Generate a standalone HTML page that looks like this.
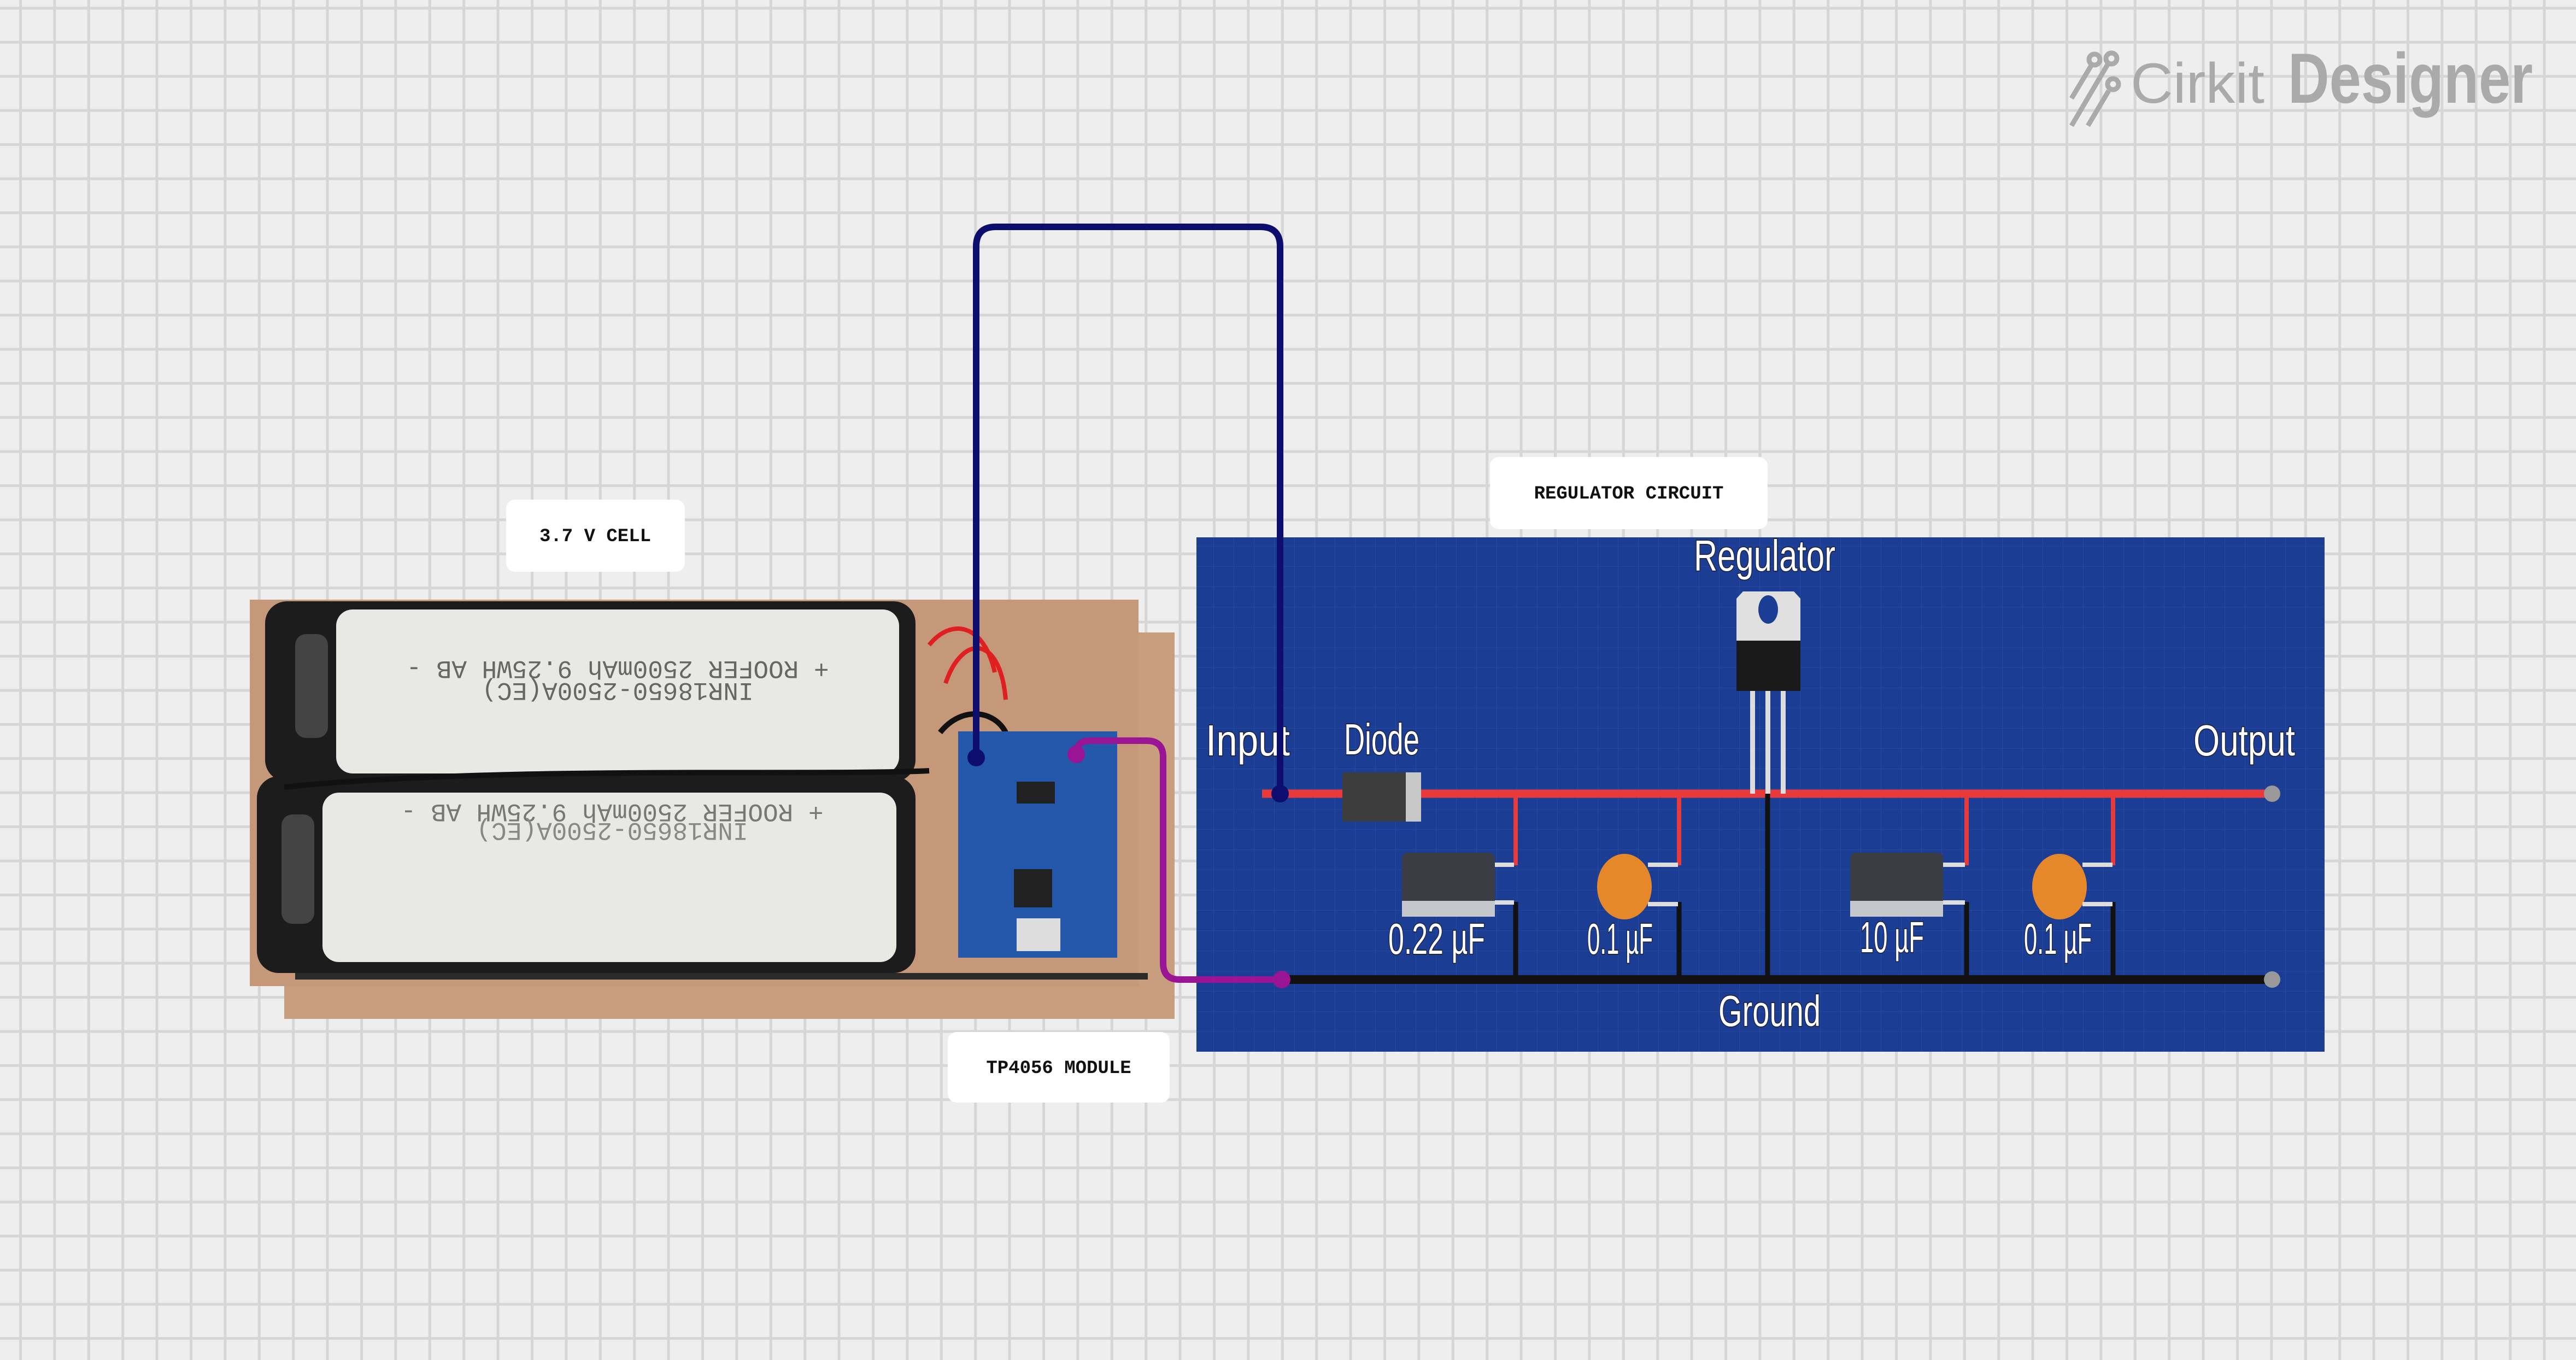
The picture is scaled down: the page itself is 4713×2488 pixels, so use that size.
<!DOCTYPE html>
<html><head><meta charset="utf-8"><style>
html,body{margin:0;padding:0;width:4713px;height:2488px;overflow:hidden;background:#eeeeee}
svg{display:block}
.lb{font-family:"Liberation Sans",sans-serif;fill:#fff;font-size:80px;stroke:#1a1a2a;stroke-width:3px;paint-order:stroke}
.tag{font-family:"Liberation Mono",monospace;font-weight:bold;font-size:34px;fill:#111}
.bt{font-family:"Liberation Mono",monospace;font-size:46px;fill:#666}
</style></head><body>
<svg width="4713" height="2488" viewBox="0 0 4713 2488" xmlns="http://www.w3.org/2000/svg">
<defs>
<pattern id="g" width="62.4" height="62.4" patternUnits="userSpaceOnUse" x="35" y="12.4">
<path d="M0 0H62.4M0 0V62.4" stroke="#d6d6d6" stroke-width="10" fill="none"/>
</pattern>
<pattern id="bg" width="37" height="37" patternUnits="userSpaceOnUse">
<path d="M0 0H37M0 0V37" stroke="#2d52a8" stroke-width="2" fill="none" opacity="0.6"/>
</pattern>
</defs>
<rect width="4713" height="2488" fill="#eeeeee"/>
<rect width="4713" height="2488" fill="url(#g)"/>

<!-- logo -->
<g fill="#aaaaaa">
<g stroke="#aaaaaa" stroke-width="9" fill="none">
<line x1="3790" y1="180" x2="3826" y2="120"/><circle cx="3832" cy="109" r="10"/>
<line x1="3790" y1="230" x2="3856" y2="118"/><circle cx="3863" cy="107" r="10"/>
<line x1="3820" y1="230" x2="3858" y2="166"/><circle cx="3866" cy="154" r="10"/>
</g>
<text x="3898" y="188" font-family="Liberation Sans,sans-serif" font-size="104" textLength="245" lengthAdjust="spacingAndGlyphs">Cirkit</text>
<text x="4186" y="188" font-family="Liberation Sans,sans-serif" font-weight="bold" font-size="130" textLength="448" lengthAdjust="spacingAndGlyphs">Designer</text>
</g>

<!-- battery photo -->
<rect x="520" y="1157" width="1629" height="707" fill="#c89e7e"/>
<rect x="457" y="1097" width="1626" height="707" fill="#c49878"/>
<rect x="540" y="1780" width="1560" height="12" fill="#2a2a2a"/>
<rect x="485" y="1100" width="1190" height="330" rx="40" fill="#1c1c1c"/>
<rect x="470" y="1420" width="1205" height="360" rx="40" fill="#1c1c1c"/>
<rect x="615" y="1115" width="1030" height="300" rx="30" fill="#e8e8e4"/>
<rect x="590" y="1450" width="1050" height="310" rx="30" fill="#e8e8e4"/>
<rect x="540" y="1160" width="60" height="190" rx="20" fill="#444"/>
<rect x="515" y="1490" width="60" height="200" rx="20" fill="#444"/>
<text class="bt" x="1130" y="1242" text-anchor="middle" transform="rotate(180 1130 1226)">+ ROOFER 2500mAh 9.25WH AB -</text>
<text class="bt" x="1130" y="1282" text-anchor="middle" transform="rotate(180 1130 1266)">INR18650-2500A(EC)</text>
<text class="bt" x="1120" y="1504" text-anchor="middle" transform="rotate(180 1120 1488)" style="fill:#777">+ ROOFER 2500mAh 9.25WH AB -</text>
<text class="bt" x="1120" y="1538" text-anchor="middle" transform="rotate(180 1120 1522)" style="fill:#888">INR18650-2500A(EC)</text>
<path d="M1700 1180 C1740 1130 1800 1140 1820 1230 M1730 1250 C1760 1160 1830 1160 1840 1280" stroke="#e02020" stroke-width="8" fill="none"/>
<path d="M1720 1340 C1760 1290 1820 1300 1840 1340 M520 1440 C900 1400 1500 1420 1700 1410" stroke="#111" stroke-width="10" fill="none"/>
<rect x="1753" y="1338" width="291" height="414" fill="#2458aa"/>
<rect x="1860" y="1430" width="70" height="40" fill="#222"/>
<rect x="1855" y="1590" width="70" height="70" fill="#222"/>
<rect x="1860" y="1680" width="80" height="60" fill="#ddd"/>

<!-- blue panel -->
<rect x="2189" y="983" width="2064" height="941" fill="#1b3d93"/>
<rect x="2189" y="983" width="2064" height="941" fill="url(#bg)"/>

<!-- rails -->
<line x1="2309" y1="1452" x2="4157" y2="1452" stroke="#e83a3a" stroke-width="15"/>
<line x1="2340" y1="1792" x2="4157" y2="1792" stroke="#111" stroke-width="16"/>
<g stroke="#e83a3a" stroke-width="8">
<line x1="2773" y1="1452" x2="2773" y2="1583"/><line x1="3072" y1="1452" x2="3072" y2="1583"/>
<line x1="3598" y1="1452" x2="3598" y2="1583"/><line x1="3866" y1="1452" x2="3866" y2="1583"/>
</g>
<g stroke="#111" stroke-width="9">
<line x1="2773" y1="1650" x2="2773" y2="1792"/><line x1="3072" y1="1650" x2="3072" y2="1792"/>
<line x1="3598" y1="1650" x2="3598" y2="1792"/><line x1="3866" y1="1650" x2="3866" y2="1792"/>
<line x1="3234" y1="1452" x2="3234" y2="1792"/>
</g>
<circle cx="4157" cy="1452" r="15" fill="#999"/><circle cx="4157" cy="1792" r="15" fill="#999"/>

<!-- diode -->
<rect x="2456" y="1413" width="144" height="90" fill="#3c3c3c"/>
<rect x="2572" y="1413" width="28" height="90" fill="#c8c8c8"/>

<!-- regulator -->
<rect x="3202" y="1262" width="9" height="190" fill="#ddd"/><rect x="3230" y="1262" width="9" height="190" fill="#ddd"/><rect x="3258" y="1262" width="9" height="190" fill="#ddd"/>
<path d="M3177 1095 L3189 1082 L3282 1082 L3294 1095 L3294 1172 L3177 1172Z" fill="#e0e0e0"/>
<ellipse cx="3235" cy="1115" rx="18" ry="26" fill="#1b3d93"/>
<rect x="3177" y="1172" width="117" height="92" fill="#1a1a1a"/>

<!-- caps -->
<g>
<rect x="2565" y="1560" width="170" height="117" rx="10" fill="#3a3d44"/>
<rect x="2565" y="1648" width="170" height="29" fill="#c4c8cc"/>
<rect x="2735" y="1578" width="35" height="8" fill="#ddd"/><rect x="2735" y="1647" width="35" height="8" fill="#ddd"/>
<rect x="3385" y="1560" width="170" height="117" rx="10" fill="#3a3d44"/>
<rect x="3385" y="1648" width="170" height="29" fill="#c4c8cc"/>
<rect x="3555" y="1578" width="40" height="8" fill="#ddd"/><rect x="3555" y="1647" width="40" height="8" fill="#ddd"/>
<ellipse cx="2972" cy="1622" rx="50" ry="60" fill="#e5882a"/>
<rect x="3015" y="1578" width="55" height="8" fill="#ddd"/><rect x="3015" y="1650" width="55" height="8" fill="#ddd"/>
<ellipse cx="3768" cy="1622" rx="50" ry="60" fill="#e5882a"/>
<rect x="3810" y="1578" width="55" height="8" fill="#ddd"/><rect x="3810" y="1650" width="55" height="8" fill="#ddd"/>
</g>

<!-- labels -->
<text class="lb" x="2206" y="1382" textLength="154" lengthAdjust="spacingAndGlyphs">Input</text>
<text class="lb" x="2459" y="1380" textLength="138" lengthAdjust="spacingAndGlyphs">Diode</text>
<text class="lb" x="3099" y="1044" textLength="259" lengthAdjust="spacingAndGlyphs">Regulator</text>
<text class="lb" x="4013" y="1382" textLength="186" lengthAdjust="spacingAndGlyphs">Output</text>
<text class="lb" x="2540" y="1745" textLength="177" lengthAdjust="spacingAndGlyphs">0.22 µF</text>
<text class="lb" x="2904" y="1745" textLength="120" lengthAdjust="spacingAndGlyphs">0.1 µF</text>
<text class="lb" x="3403" y="1742" textLength="117" lengthAdjust="spacingAndGlyphs">10 µF</text>
<text class="lb" x="3703" y="1745" textLength="124" lengthAdjust="spacingAndGlyphs">0.1 µF</text>
<text class="lb" x="3144" y="1877" textLength="187" lengthAdjust="spacingAndGlyphs">Ground</text>

<!-- wires -->
<path d="M1786 1386 V451 Q1786 415 1822 415 H2306 Q2342 415 2342 451 V1452" stroke="#0d0d6e" stroke-width="12" fill="none"/>
<circle cx="1786" cy="1386" r="16" fill="#0d0d6e"/><circle cx="2342" cy="1452" r="16" fill="#0d0d6e"/>
<path d="M1969 1380 Q1969 1355 1995 1355 H2098 Q2128 1355 2128 1385 V1762 Q2128 1792 2158 1792 H2345" stroke="#9a1595" stroke-width="12" fill="none"/>
<circle cx="1969" cy="1380" r="16" fill="#9a1595"/><circle cx="2345" cy="1792" r="16" fill="#9a1595"/>

<!-- tags -->
<rect x="2726" y="836" width="508" height="132" rx="16" fill="#fff"/>
<text class="tag" x="2980" y="912" text-anchor="middle">REGULATOR CIRCUIT</text>
<rect x="926" y="914" width="327" height="132" rx="16" fill="#fff"/>
<text class="tag" x="1089" y="990" text-anchor="middle">3.7 V CELL</text>
<rect x="1734" y="1888" width="406" height="129" rx="16" fill="#fff"/>
<text class="tag" x="1937" y="1963" text-anchor="middle">TP4056 MODULE</text>
</svg>
</body></html>
